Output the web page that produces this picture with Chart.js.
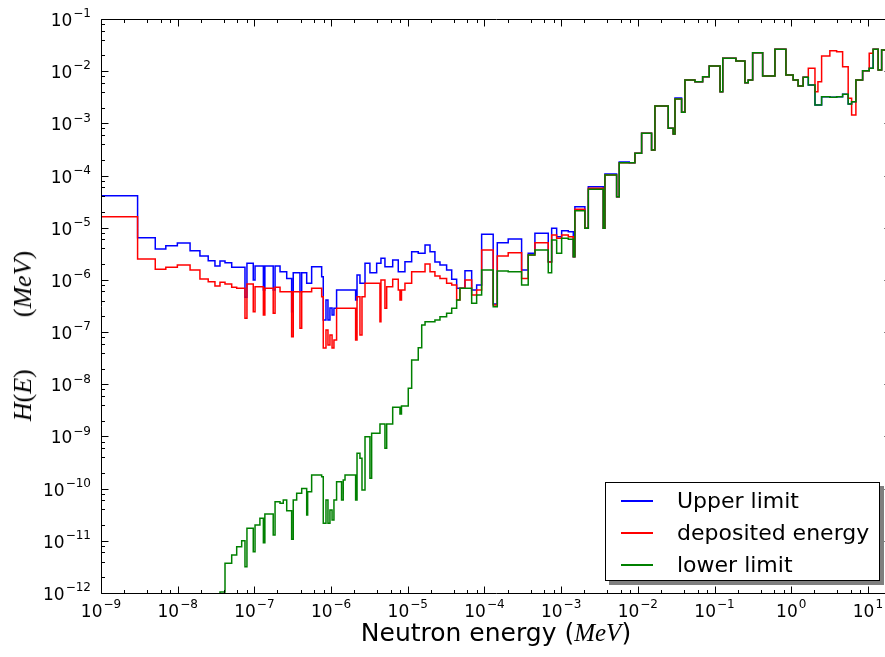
<!DOCTYPE html>
<html lang="en">
<head>
  <meta charset="UTF-8">
  <title>H(E) vs neutron energy</title>
  <script src="https://cdn.jsdelivr.net/npm/chart.js@4.4.0/dist/chart.umd.min.js"></script>
  <style>
    html, body { margin: 0; padding: 0; background: #fff; overflow: hidden; }
    #wrap { position: relative; width: 885px; height: 657px; overflow: hidden; }
    #plot { position: absolute; left: 0; top: 0; }
    .m { font-family: 'Liberation Serif', 'DejaVu Serif', serif; font-style: italic; }
  </style>
</head>
<body>
<div id="wrap">
  <canvas id="plot" width="896" height="657"></canvas>

  <!-- axis titles -->
  <div id="xtitle" style="position:absolute; left:0; top:618px; width:992px; text-align:center; font:25px 'DejaVu Sans'; color:#000; white-space:nowrap;">
    Neutron energy (<span class="m">MeV</span>)
  </div>
  <div id="ytitle" style="position:absolute; left:23px; top:336px; transform:translate(-50%,-50%) rotate(-90deg); font:26px 'Liberation Serif', serif; color:#000; white-space:nowrap;">
    <span class="m">H</span>(<span class="m">E</span>)<span style="display:inline-block; width:52px;"></span>(<span class="m">MeV</span>)
  </div>

  <!-- legend box -->
  <div id="legend" style="position:absolute; left:605px; top:482px; width:273px; height:97px; border:1px solid #000; background:#fff; box-shadow:4px 4px 0 #7f7f7f; font:22px 'DejaVu Sans'; color:#000;"></div>
</div>

<script>
  // bin edges (MeV) shared by the three histograms
  const edges = [
    1e-9, 3.0e-9, 5.1e-9, 7.0e-9, 9.9e-9, 1.45e-8, 1.95e-8, 2.5e-8, 3.06e-8, 3.56e-8,
    4.14e-8, 5.06e-8, 5.88e-8, 6.83e-8, 7.54e-8, 8.0e-8, 9.67e-8, 1.02e-7, 1.18e-7, 1.31e-7,
    1.37e-7, 1.76e-7, 1.86e-7, 2.16e-7, 2.38e-7, 2.64e-7, 3.06e-7, 3.21e-7, 3.56e-7, 3.93e-7,
    4.14e-7, 4.81e-7, 4.95e-7, 5.58e-7, 7.54e-7, 7.91e-7, 8.58e-7, 9.11e-7, 9.67e-7, 1.03e-6,
    1.09e-6, 1.18e-6, 1.37e-6, 1.44e-6, 1.52e-6, 2.09e-6, 2.18e-6, 2.38e-6, 2.53e-6, 2.77e-6,
    3.21e-6, 3.38e-6, 3.93e-6, 4.34e-6, 4.47e-6, 5.04e-6, 5.31e-6, 6.36e-6, 7.52e-6, 7.91e-6,
    8.28e-6, 9.19e-6, 1.015e-5, 1.124e-5, 1.37e-5, 1.52e-5, 1.68e-5, 1.95e-5, 2.26e-5, 2.63e-5,
    3.21e-5, 3.74e-5, 4.34e-5, 4.79e-5, 5.57e-5, 6.81e-5, 7.91e-5, 9.19e-5, 1.30e-4, 1.47e-4,
    2.04e-4, 3.05e-4, 3.72e-4, 4.55e-4, 6.79e-4, 7.52e-4, 8.74e-4, 1.015e-3, 1.24e-3, 1.44e-3,
    1.51e-3, 2.04e-3, 2.26e-3, 3.54e-3, 3.72e-3, 5.29e-3, 5.72e-3, 7.73e-3, 9.16e-3, 1.12e-2,
    1.51e-2, 1.67e-2, 2.49e-2, 2.89e-2, 3.05e-2, 3.72e-2, 4.11e-2, 5.55e-2, 7.0e-2, 8.53e-2,
    0.118, 0.128, 0.19, 0.249, 0.275, 0.314, 0.424, 0.613, 0.853, 1.06,
    1.23, 1.43, 1.67, 2.04, 2.23, 2.49, 3.19, 3.91, 4.68, 5.53,
    6.13, 6.97, 8.53, 10.4, 11.7, 13.6, 15.1, 20
  ];

  const upperLimit = [
    4.11e-5, 6.44e-6, 3.91e-6, 4.52e-6, 5.10e-6, 3.63e-6, 2.87e-6, 2.33e-6, 1.85e-6, 2.30e-6,
    2.14e-6, 1.74e-6, 1.74e-6, 1.74e-6, 4.64e-7, 2.08e-6, 9.96e-7, 1.85e-6, 1.85e-6, 6.40e-7,
    1.85e-6, 6.40e-7, 1.85e-6, 1.44e-6, 1.44e-6, 1.07e-6, 2.46e-7, 1.37e-6, 1.37e-6, 5.94e-7,
    1.37e-6, 8.61e-7, 8.61e-7, 1.79e-6, 1.15e-6, 1.70e-7, 4.12e-7, 1.70e-7, 2.89e-7, 2.13e-7,
    2.86e-7, 6.40e-7, 6.40e-7, 6.40e-7, 6.40e-7, 4.12e-7, 1.24e-6, 8.61e-7, 8.61e-7, 2.08e-6,
    1.37e-6, 1.37e-6, 2.08e-6, 2.08e-6, 2.59e-6, 1.79e-6, 1.79e-6, 2.41e-6, 1.44e-6, 1.44e-6,
    1.44e-6, 2.23e-6, 2.23e-6, 3.47e-6, 3.23e-6, 3.23e-6, 4.66e-6, 3.47e-6, 2.20e-6, 1.93e-6,
    1.55e-6, 1.03e-6, 6.90e-7, 6.90e-7, 1.50e-6, 6.40e-7, 7.98e-7, 7.48e-6, 3.45e-7, 5.16e-6,
    6.08e-6, 1.55e-6, 3.23e-6, 7.82e-6, 2.23e-6, 9.75e-6, 6.73e-6, 8.77e-6, 8.39e-6, 2.78e-6,
    2.53e-5, 9.75e-6, 6.11e-5, 9.75e-6, 1.07e-4, 3.93e-5, 1.82e-4, 1.76e-4, 2.67e-4, 6.45e-4,
    3.09e-4, 2.15e-3, 8.04e-4, 6.25e-4, 3.06e-3, 1.63e-3, 6.78e-3, 6.29e-3, 7.84e-3, 1.26e-2,
    4.04e-3, 1.76e-2, 1.57e-2, 6.01e-3, 6.78e-3, 2.26e-2, 8.08e-3, 2.63e-2, 8.45e-3, 6.78e-3,
    5.20e-3, 7.63e-3, 5.43e-3, 2.25e-3, 2.25e-3, 3.24e-3, 3.16e-3, 3.24e-3, 3.60e-3, 2.35e-3,
    2.60e-3, 6.78e-3, 1.02e-2, 1.14e-2, 2.63e-2, 1.05e-2, 2.55e-2
  ];

  const depositedEnergy = [
    1.63e-5, 2.52e-6, 1.60e-6, 1.74e-6, 1.93e-6, 1.55e-6, 1.04e-6, 9.24e-7, 7.64e-7, 8.99e-7,
    8.34e-7, 7.21e-7, 6.90e-7, 6.90e-7, 1.84e-7, 8.34e-7, 2.46e-7, 7.41e-7, 7.41e-7, 2.13e-7,
    6.90e-7, 2.29e-7, 7.21e-7, 5.94e-7, 5.94e-7, 5.94e-7, 8.16e-8, 5.94e-7, 5.94e-7, 1.18e-7,
    5.94e-7, 5.94e-7, 5.94e-7, 6.90e-7, 4.76e-7, 4.95e-8, 1.10e-7, 5.65e-8, 8.79e-8, 4.95e-8,
    7.05e-8, 2.86e-7, 2.86e-7, 2.86e-7, 2.86e-7, 7.05e-8, 4.76e-7, 8.79e-8, 4.76e-7, 8.61e-7,
    8.61e-7, 8.61e-7, 8.61e-7, 1.58e-7, 9.96e-7, 2.86e-7, 7.41e-7, 1.03e-6, 6.40e-7, 4.12e-7,
    6.40e-7, 8.61e-7, 8.61e-7, 1.44e-6, 1.44e-6, 1.44e-6, 2.02e-6, 1.44e-6, 1.19e-6, 1.07e-6,
    8.61e-7, 7.98e-7, 4.12e-7, 6.90e-7, 9.96e-7, 5.14e-7, 6.40e-7, 3.74e-6, 3.30e-7, 2.87e-6,
    3.32e-6, 1.07e-6, 3.00e-6, 5.16e-6, 2.20e-6, 7.25e-6, 6.27e-6, 7.25e-6, 6.73e-6, 2.78e-6,
    2.25e-5, 9.75e-6, 5.69e-5, 9.75e-6, 1.02e-4, 3.93e-5, 1.76e-4, 1.76e-4, 2.67e-4, 6.45e-4,
    3.09e-4, 2.15e-3, 8.04e-4, 6.25e-4, 2.93e-3, 1.63e-3, 6.78e-3, 6.29e-3, 7.84e-3, 1.26e-2,
    4.04e-3, 1.76e-2, 1.57e-2, 6.01e-3, 6.78e-3, 2.26e-2, 8.08e-3, 2.63e-2, 8.45e-3, 6.78e-3,
    5.20e-3, 7.63e-3, 1.14e-2, 4.04e-3, 6.29e-3, 1.95e-2, 2.47e-2, 2.36e-2, 1.22e-2, 3.02e-3,
    1.45e-3, 6.78e-3, 1.02e-2, 2.20e-2, 2.63e-2, 1.05e-2, 2.55e-2
  ];

  // values below 1e-12 fall off the bottom of the plot
  const lowerLimit = [
    1e-13, 1e-13, 1e-13, 1e-13, 1e-13, 1e-13, 1e-13, 1e-13, 1e-13, 1.04e-12,
    3.71e-12, 5.35e-12, 7.71e-12, 1.00e-11, 3.19e-12, 1.74e-11, 6.18e-12, 2.01e-11, 2.70e-11, 9.20e-12,
    3.26e-11, 1.29e-11, 5.61e-11, 5.23e-11, 6.05e-11, 3.77e-11, 1.07e-11, 6.05e-11, 8.13e-11, 8.13e-11,
    1.01e-10, 3.12e-11, 8.73e-11, 1.82e-10, 1.69e-10, 2.16e-11, 6.05e-11, 2.16e-11, 3.89e-11, 2.50e-11,
    6.05e-11, 1.36e-10, 6.05e-11, 1.46e-10, 1.82e-10, 6.05e-11, 4.75e-10, 3.81e-10, 9.41e-11, 9.89e-10,
    1.58e-10, 1.15e-9, 1.15e-9, 1.73e-9, 1.73e-9, 5.93e-10, 1.73e-9, 3.62e-9, 3.62e-9, 2.69e-9,
    3.83e-9, 3.83e-9, 8.37e-9, 2.92e-8, 5.02e-8, 1.37e-7, 1.58e-7, 1.58e-7, 1.70e-7, 1.97e-7,
    2.29e-7, 2.86e-7, 4.12e-7, 6.90e-7, 6.90e-7, 3.56e-7, 5.14e-7, 1.55e-6, 3.06e-7, 1.48e-6,
    1.44e-6, 7.98e-7, 3.00e-6, 3.74e-6, 1.37e-6, 5.82e-6, 3.23e-6, 6.27e-6, 6.00e-6, 2.78e-6,
    2.12e-5, 9.75e-6, 5.45e-5, 9.75e-6, 1.02e-4, 3.93e-5, 1.76e-4, 1.76e-4, 2.67e-4, 6.45e-4,
    3.09e-4, 2.15e-3, 8.04e-4, 6.25e-4, 2.93e-3, 1.63e-3, 6.78e-3, 6.29e-3, 7.84e-3, 1.26e-2,
    4.04e-3, 1.76e-2, 1.57e-2, 6.01e-3, 6.78e-3, 2.26e-2, 8.08e-3, 2.63e-2, 8.45e-3, 6.78e-3,
    5.20e-3, 7.63e-3, 5.43e-3, 2.25e-3, 2.25e-3, 3.24e-3, 3.16e-3, 3.24e-3, 3.60e-3, 2.35e-3,
    2.60e-3, 6.78e-3, 1.02e-2, 1.14e-2, 2.63e-2, 1.05e-2, 2.55e-2
  ];

  const seriesNames = ['Upper limit', 'deposited energy', 'lower limit'];
  const seriesColors = ['#0000ff', '#ff0000', '#008000'];

  // tick decades (exponents) and minor subdivisions
  const xTickExps = [-9, -8, -7, -6, -5, -4, -3, -2, -1, 0, 1];
  const yTickExps = [-12, -11, -10, -9, -8, -7, -6, -5, -4, -3, -2, -1];
  const minorSubs = [2, 4, 6, 8];

  // histogram -> step points (last edge repeats the last value)
  function toSteps(vals) {
    const pts = vals.map((v, i) => ({ x: edges[i], y: v }));
    pts.push({ x: edges[vals.length], y: vals[vals.length - 1] });
    return pts;
  }

  // draws "10" with a raised exponent
  function drawPow(ctx, exp, px, baseY, align) {
    const base = '10';
    const sup = String(exp).replace('-', '\u2212');
    ctx.font = '17px "DejaVu Sans"';
    const wb = ctx.measureText(base).width;
    ctx.font = '12px "DejaVu Sans"';
    const ws = ctx.measureText(sup).width;
    const w = wb + ws + 1;
    const left = align === 'center' ? px - w / 2 : px - w;
    ctx.textAlign = 'left';
    ctx.textBaseline = 'alphabetic';
    ctx.font = '17px "DejaVu Sans"';
    ctx.fillText(base, left, baseY);
    ctx.font = '12px "DejaVu Sans"';
    ctx.fillText(sup, left + wb + 1, baseY - 8.7);
  }

  // matplotlib-like frame, inward ticks and power-of-ten labels
  const axesPlugin = {
    id: 'mplAxes',
    afterDatasetsDraw(chart) {
      const { ctx, chartArea: a, scales } = chart;
      const xs = scales.x, ys = scales.y;
      const L = Math.round(a.left) + 0.5, R = Math.round(a.right) + 0.5;
      const T = Math.round(a.top) + 0.5, B = Math.round(a.bottom) + 0.5;
      ctx.save();
      ctx.strokeStyle = '#000';
      ctx.lineWidth = 1;
      ctx.beginPath();
      ctx.rect(L, T, R - L, B - T);

      xTickExps.forEach(e => {
        const px = Math.round(xs.getPixelForValue(Math.pow(10, e))) + 0.5;
        ctx.moveTo(px, B); ctx.lineTo(px, B - 7);
        ctx.moveTo(px, T); ctx.lineTo(px, T + 7);
        minorSubs.forEach(m => {
          const v = m * Math.pow(10, e);
          if (v > xs.max) return;
          const mx = Math.round(xs.getPixelForValue(v)) + 0.5;
          ctx.moveTo(mx, B); ctx.lineTo(mx, B - 3.5);
          ctx.moveTo(mx, T); ctx.lineTo(mx, T + 3.5);
        });
      });
      yTickExps.forEach(e => {
        const py = Math.round(ys.getPixelForValue(Math.pow(10, e))) + 0.5;
        ctx.moveTo(L, py); ctx.lineTo(L + 7, py);
        ctx.moveTo(R, py); ctx.lineTo(R - 7, py);
        minorSubs.forEach(m => {
          const v = m * Math.pow(10, e);
          if (v > ys.max) return;
          const my = Math.round(ys.getPixelForValue(v)) + 0.5;
          ctx.moveTo(L, my); ctx.lineTo(L + 3.5, my);
          ctx.moveTo(R, my); ctx.lineTo(R - 3.5, my);
        });
      });
      ctx.stroke();

      ctx.fillStyle = '#000';
      xTickExps.forEach(e => {
        drawPow(ctx, e, xs.getPixelForValue(Math.pow(10, e)), a.bottom + 24, 'center');
      });
      yTickExps.forEach(e => {
        drawPow(ctx, e, a.left - 10, ys.getPixelForValue(Math.pow(10, e)) + 7, 'right');
      });
      ctx.restore();
    }
  };

  const seriesData = [upperLimit, depositedEnergy, lowerLimit];

  new Chart(document.getElementById('plot'), {
    type: 'line',
    data: {
      datasets: seriesData.map((vals, i) => ({
        label: seriesNames[i],
        data: toSteps(vals),
        borderColor: seriesColors[i],
        borderWidth: 1.5,
        pointRadius: 0,
        stepped: true,
        fill: false,
        order: 3 - i   // green on top, like the original
      }))
    },
    options: {
      responsive: false,
      animation: false,
      devicePixelRatio: 1,
      layout: { padding: { left: 101, top: 19, right: 5, bottom: 64 } },
      scales: {
        x: { type: 'logarithmic', min: 1e-9, max: 20, display: false },
        y: { type: 'logarithmic', min: 1e-12, max: 0.1, display: false }
      },
      plugins: {
        legend: { display: false },
        tooltip: { enabled: false }
      }
    },
    plugins: [axesPlugin]
  });

  // legend rows
  const legend = document.getElementById('legend');
  const rowY = [18, 50, 82];
  seriesNames.forEach((name, i) => {
    const line = document.createElement('div');
    line.style.cssText = 'position:absolute; left:15px; width:32px; height:2px; top:' + (rowY[i] - 1) + 'px; background:' + seriesColors[i] + ';';
    legend.appendChild(line);
    const txt = document.createElement('div');
    txt.textContent = name;
    txt.style.cssText = 'position:absolute; left:71px; top:' + (rowY[i] - 14) + 'px; line-height:28px; white-space:nowrap;';
    legend.appendChild(txt);
  });
</script>
</body>
</html>
